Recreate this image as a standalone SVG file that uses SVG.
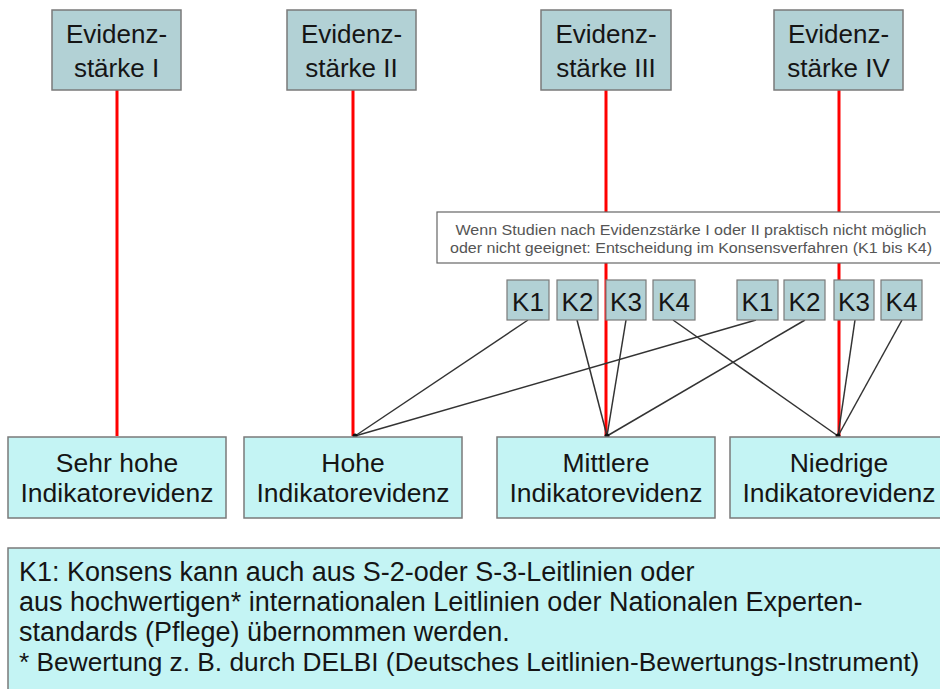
<svg xmlns="http://www.w3.org/2000/svg" width="940" height="689" viewBox="0 0 940 689">
<style>
  .ev { fill: #b2d1d5; stroke: #7a7a7a; stroke-width: 1.5; }
  .ind { fill: #c4f4f4; stroke: #7a7a7a; stroke-width: 1.5; }
  .kb { fill: #b2d1d5; stroke: #7a7a7a; stroke-width: 1.2; }
  .t { font-family: "Liberation Sans", Arial, sans-serif; fill: #151515; }
  .big { font-size: 26px; text-anchor: middle; }
  .bi { font-size: 26.5px; text-anchor: middle; }
  .k { font-size: 26px; text-anchor: middle; }
  .note { font-family: "Liberation Sans", Arial, sans-serif; font-size: 14px; fill: #555; text-anchor: middle; }
  .foot { font-size: 27px; }
  .red { stroke: #ff0000; stroke-width: 3; fill: none; }
  .con { stroke: #333; stroke-width: 1.5; fill: none; }
</style>

<g id="red-lines">
  <line class="red" x1="117" y1="90" x2="117" y2="436"/>
  <line class="red" x1="353" y1="90" x2="353" y2="436"/>
  <line class="red" x1="606" y1="90" x2="606" y2="436"/>
  <line class="red" x1="839" y1="90" x2="839" y2="436"/>
</g>

<g id="connectors">
  <line class="con" x1="528" y1="320" x2="355" y2="436"/>
  <line class="con" x1="756" y1="320" x2="355" y2="436"/>
  <line class="con" x1="577" y1="320" x2="607" y2="436"/>
  <line class="con" x1="626" y1="320" x2="607" y2="436"/>
  <line class="con" x1="805" y1="320" x2="607" y2="436"/>
  <line class="con" x1="673" y1="320" x2="838" y2="436"/>
  <line class="con" x1="855" y1="320" x2="838" y2="436"/>
  <line class="con" x1="902" y1="320" x2="838" y2="436"/>
  <circle cx="355" cy="436" r="2.5" fill="#111"/>
  <circle cx="607" cy="436" r="2.5" fill="#111"/>
  <circle cx="838" cy="436" r="2.5" fill="#111"/>
</g>

<g id="ev1">
  <rect class="ev" x="52" y="10" width="129" height="80"/>
  <text class="t big" x="116.5" y="43">Evidenz-</text>
  <text class="t big" x="116.5" y="77">stärke I</text>
</g>
<g id="ev2">
  <rect class="ev" x="287" y="10" width="129" height="80"/>
  <text class="t big" x="351.5" y="43">Evidenz-</text>
  <text class="t big" x="351.5" y="77">stärke II</text>
</g>
<g id="ev3">
  <rect class="ev" x="541" y="10" width="130" height="80"/>
  <text class="t big" x="606" y="43">Evidenz-</text>
  <text class="t big" x="606" y="77">stärke III</text>
</g>
<g id="ev4">
  <rect class="ev" x="774" y="10" width="129" height="80"/>
  <text class="t big" x="838.5" y="43">Evidenz-</text>
  <text class="t big" x="838.5" y="77">stärke IV</text>
</g>

<g id="note">
  <rect x="437" y="212" width="510" height="51" fill="#fff" stroke="#666" stroke-width="1.2"/>
  <text class="note" x="691" y="235" textLength="471" lengthAdjust="spacingAndGlyphs">Wenn Studien nach Evidenzstärke I oder II praktisch nicht möglich</text>
  <text class="note" x="691" y="253" textLength="482" lengthAdjust="spacingAndGlyphs">oder nicht geeignet: Entscheidung im Konsensverfahren (K1 bis K4)</text>
</g>

<g id="k1a"><rect class="kb" x="507" y="280" width="42" height="40"/><text class="t k" x="528" y="311">K1</text></g>
<g id="k2a"><rect class="kb" x="557" y="280" width="41" height="40"/><text class="t k" x="577.5" y="311">K2</text></g>
<g id="k3a"><rect class="kb" x="606" y="280" width="40" height="40"/><text class="t k" x="626" y="311">K3</text></g>
<g id="k4a"><rect class="kb" x="653" y="280" width="42" height="40"/><text class="t k" x="674" y="311">K4</text></g>
<g id="k1b"><rect class="kb" x="737" y="280" width="41" height="40"/><text class="t k" x="757.5" y="311">K1</text></g>
<g id="k2b"><rect class="kb" x="784" y="280" width="41" height="40"/><text class="t k" x="804.5" y="311">K2</text></g>
<g id="k3b"><rect class="kb" x="834" y="280" width="40" height="40"/><text class="t k" x="854" y="311">K3</text></g>
<g id="k4b"><rect class="kb" x="881" y="280" width="41" height="40"/><text class="t k" x="901.5" y="311">K4</text></g>

<g id="ind1">
  <rect class="ind" x="8" y="437" width="218" height="81"/>
  <text class="t bi" x="117" y="472">Sehr hohe</text>
  <text class="t bi" x="117" y="502">Indikatorevidenz</text>
</g>
<g id="ind2">
  <rect class="ind" x="244" y="437" width="218" height="81"/>
  <text class="t bi" x="353" y="472">Hohe</text>
  <text class="t bi" x="353" y="502">Indikatorevidenz</text>
</g>
<g id="ind3">
  <rect class="ind" x="497" y="437" width="218" height="81"/>
  <text class="t bi" x="606" y="472">Mittlere</text>
  <text class="t bi" x="606" y="502">Indikatorevidenz</text>
</g>
<g id="ind4">
  <rect class="ind" x="730" y="437" width="218" height="81"/>
  <text class="t bi" x="839" y="472">Niedrige</text>
  <text class="t bi" x="839" y="502">Indikatorevidenz</text>
</g>

<g id="footnote">
  <rect class="ind" x="8" y="548" width="945" height="150"/>
  <text class="t foot" x="19" y="581">K1: Konsens kann auch aus S-2-oder S-3-Leitlinien oder</text>
  <text class="t foot" x="19" y="611">aus hochwertigen* internationalen Leitlinien oder Nationalen Experten-</text>
  <text class="t foot" x="19" y="641">standards (Pflege) übernommen werden.</text>
  <text class="t foot" x="19" y="671" style="font-size:26.3px">* Bewertung z. B. durch DELBI (Deutsches Leitlinien-Bewertungs-Instrument)</text>
</g>
</svg>
